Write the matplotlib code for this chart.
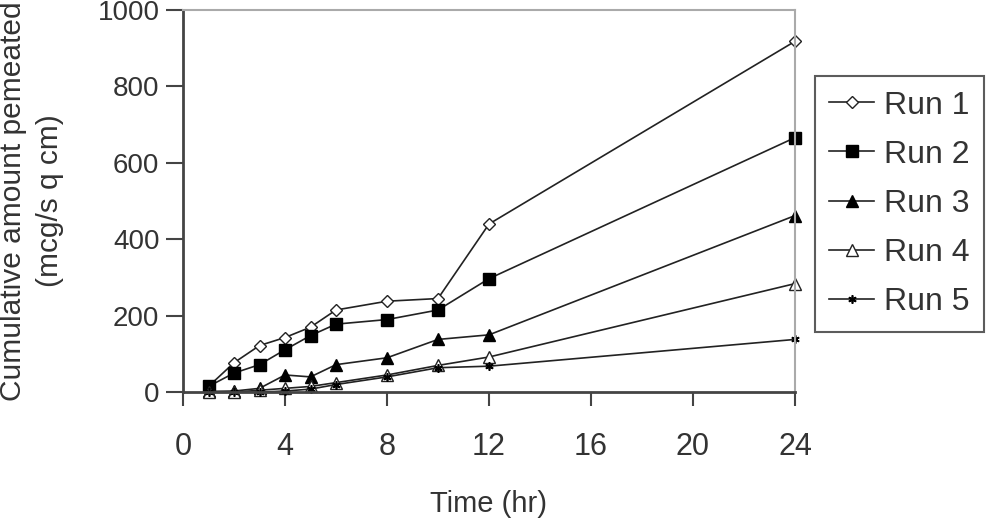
import matplotlib
matplotlib.use('Agg')
import matplotlib.pyplot as plt

# time points (hr) and cumulative amount permeated for each run
time_hr = [1, 2, 3, 4, 5, 6, 8, 10, 12, 24]
run1 = [15, 77, 122, 143, 170, 215, 238, 245, 440, 918]
run2 = [15, 50, 72, 111, 148, 178, 190, 215, 297, 666]
run3 = [2, 3, 10, 45, 40, 72, 90, 138, 150, 462]
run4 = [0, 0, 5, 10, 15, 25, 45, 70, 92, 284]
run5 = [0, 0, 0, 3, 8, 20, 40, 64, 68, 138]

labels = ['Run 1', 'Run 2', 'Run 3', 'Run 4', 'Run 5']
xticks = [0, 4, 8, 12, 16, 20, 24]
yticks = [0, 200, 400, 600, 800, 1000]

plt.rcParams['font.family'] = ['Liberation Sans', 'DejaVu Sans']
txt = '#333333'

fig = plt.figure(figsize=(10, 5.25), dpi=100)
ax = fig.add_axes([0.183, 0.253, 0.612, 0.728])

ax.plot(time_hr, run1, color='#222222', lw=1.2, marker='D', ms=6,
        mfc='white', mec='#222222', mew=1.0, label=labels[0], clip_on=False)
ax.plot(time_hr, run2, color='#222222', lw=1.2, marker='s', ms=8,
        mfc='black', mec='black', label=labels[1], clip_on=False)
ax.plot(time_hr, run3, color='#222222', lw=1.2, marker='^', ms=8,
        mfc='black', mec='black', label=labels[2], clip_on=False)
ax.plot(time_hr, run4, color='#222222', lw=1.2, marker='^', ms=8,
        mfc='white', mec='#222222', mew=1.0, label=labels[3], clip_on=False)
ax.plot(time_hr, run5, color='#222222', lw=1.2, marker=(6, 2, 0), ms=6,
        mec='black', mew=1.2, label=labels[4], clip_on=False)

ax.set_xlim(0, 24)
ax.set_ylim(0, 1000)
ax.set_xticks(xticks)
ax.set_yticks(yticks)
ax.tick_params(axis='x', direction='out', length=10, width=1.5, color='#444444',
               labelsize=22, labelcolor=txt, pad=19)
ax.tick_params(axis='y', direction='out', length=12, width=1.5, color='#444444',
               labelsize=20, labelcolor=txt, pad=5)

for s in ['left', 'bottom']:
    ax.spines[s].set_color('#444444')
    ax.spines[s].set_linewidth(2)
for s in ['top', 'right']:
    ax.spines[s].set_color('#aaaaaa')
    ax.spines[s].set_linewidth(1.5)

ax.set_xlabel('Time (hr)', fontsize=21, color=txt, labelpad=20)
ax.set_ylabel('Cumulative amount pemeated\n(mcg/s q cm)', fontsize=21.5,
              color=txt, labelpad=24, linespacing=1.4)

leg = fig.legend(loc='upper left', bbox_to_anchor=(0.815, 0.855),
                 bbox_transform=fig.transFigure, fontsize=23, frameon=True,
                 fancybox=False, edgecolor='#333333', handlelength=1.4,
                 handletextpad=0.3, labelspacing=0.6, borderpad=0.45,
                 borderaxespad=0)
leg.get_frame().set_linewidth(1.5)
for t in leg.get_texts():
    t.set_color(txt)

fig.savefig('out.png', dpi=100)
